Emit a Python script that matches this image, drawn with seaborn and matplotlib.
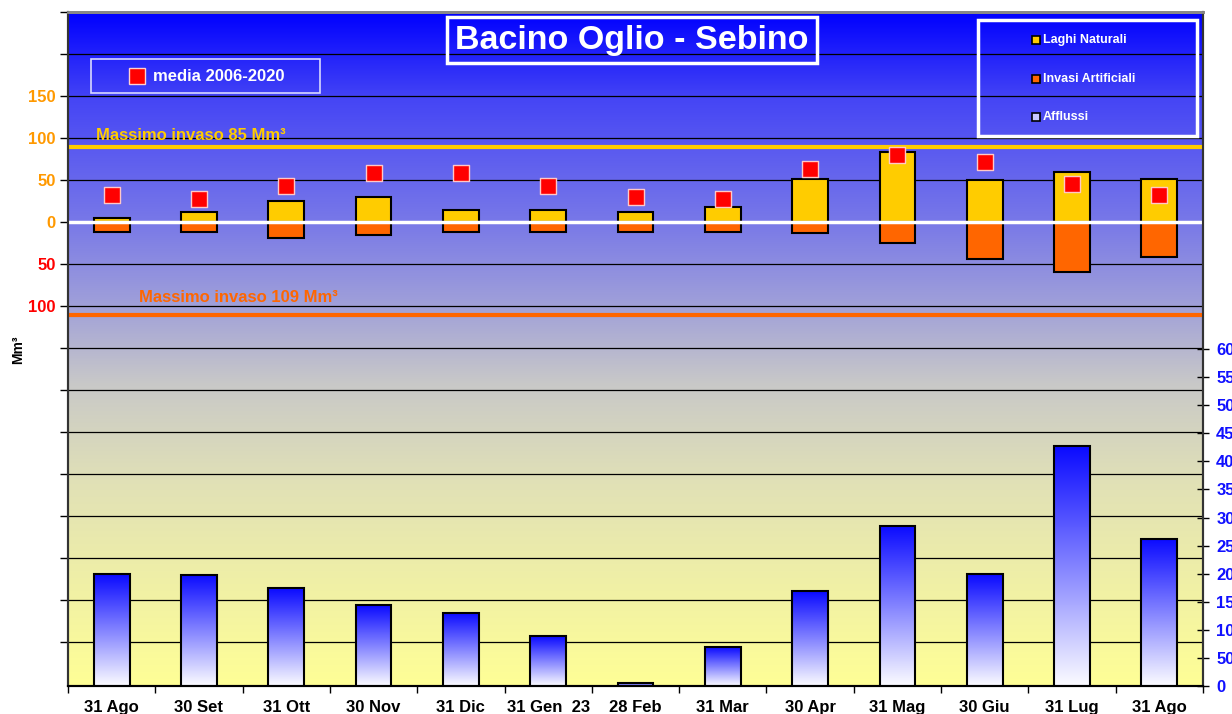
import numpy as np
import pandas as pd
import seaborn as sb
import matplotlib
matplotlib.use("Agg")
from matplotlib import pyplot as plt
from matplotlib.patches import Rectangle

plt.rcParams['font.family'] = ['Liberation Sans', 'DejaVu Sans']

# dati
date = ["31 Ago", "30 Set", "31 Ott", "30 Nov", "31 Dic", "31 Gen  23", "28 Feb",
        "31 Mar", "30 Apr", "31 Mag", "30 Giu", "31 Lug", "31 Ago"]
laghi_naturali = [5, 12, 25, 30, 14, 14, 12, 18, 51, 83, 50, 60, 51]
invasi_artificiali = [-12, -12, -19, -15, -12, -12, -12, -12, -13, -25, -44, -59, -42]
media_2006_2020 = [32, 28, 43, 59, 58, 43, 30, 27, 63, 80, 71, 45, 32]
afflussi = [199, 198, 174, 144, 130, 89, 5, 69, 169, 285, 199, 427, 262]
max_naturali = 89
max_artificiali = -110

df = pd.DataFrame({"idx": range(len(date)), "laghi": laghi_naturali,
                   "invasi": invasi_artificiali, "media": media_2006_2020,
                   "afflussi": afflussi})

fig = plt.figure(figsize=(12.32, 7.14), dpi=100)
ax = fig.add_axes([68/1232, 1-686/714, 1135/1232, 674/714])
ax2 = ax.twinx()

# barre laghi / invasi
sb.barplot(data=df, x="idx", y="laghi", ax=ax, color="#FFCC00", width=0.41,
           edgecolor="black", linewidth=1.5, saturation=1, errorbar=None, zorder=3)
sb.barplot(data=df, x="idx", y="invasi", ax=ax, color="#FF6600", width=0.41,
           edgecolor="black", linewidth=1.5, saturation=1, errorbar=None, zorder=3)
sb.scatterplot(data=df, x="idx", y="media", ax=ax, marker="s", s=125, color="#FF0000",
               edgecolor="#FFC8C8", linewidth=1, zorder=6, legend=False)

# afflussi con sfumatura
sb.barplot(data=df, x="idx", y="afflussi", ax=ax2, color="white", width=0.41,
           edgecolor="black", linewidth=1.5, saturation=1, errorbar=None, zorder=3)
grad = np.linspace(0, 1, 256)[:, None]
top = np.array([10, 10, 255]) / 255
bot = np.array([252, 252, 255]) / 255
bar_img = (bot + (top - bot) * grad)[:, None, :].reshape(256, 1, 3)
for p in ax2.patches:
    x0, y0 = p.get_x(), p.get_y()
    w, h = p.get_width(), p.get_height()
    im = ax2.imshow(bar_img, extent=[x0, x0 + w, y0, y0 + h], origin="lower",
                    aspect="auto", zorder=2)
    im.set_clip_path(p)
    p.set_facecolor("none")

# sfondo
stops = [0.0, 0.30, 0.45, 0.55, 0.69, 0.87, 1.0]
cols = np.array([[255, 255, 150], [225, 225, 182], [200, 200, 200], [165, 165, 215],
                 [120, 120, 232], [70, 70, 245], [0, 0, 255]]) / 255
yy = np.linspace(0, 1, 400)
bg = np.stack([np.interp(yy, stops, cols[:, i]) for i in range(3)], axis=1)[:, None, :]
ax.imshow(bg, extent=[0, 1, 0, 1], transform=ax.transAxes, origin="lower",
          aspect="auto", zorder=-10)

ax.axhline(0, color="white", lw=2.5, zorder=4)
ax.axhline(max_naturali, color="#FFCC00", lw=3, zorder=4)
ax.axhline(max_artificiali, color="#FF6600", lw=3, zorder=4)

ax.set_xlim(-0.5, len(date) - 0.5)
ax.set_ylim(-552, 250)
ax2.set_ylim(0, 1200)

# assi
yt = np.arange(-500, 251, 50)
ax.set_yticks(yt)
ax.set_yticklabels([str(abs(v)) if -100 <= v <= 150 else "" for v in yt],
                   fontsize=12, fontweight="bold")
for lab, v in zip(ax.get_yticklabels(), yt):
    lab.set_color("#FF9900" if v >= 0 else "#FF0000")
ax.tick_params(axis="y", direction="out", length=6, width=1, pad=3)
ax.grid(axis="y", color="black", lw=0.9, zorder=0.5)
ax.set_axisbelow(True)

ax.set_xticks(np.arange(-0.5, len(date), 1))
ax.set_xticklabels([])
ax.set_xticks(np.arange(len(date)), minor=True)
ax.set_xticklabels(date, minor=True, fontsize=12, fontweight="bold")
ax.tick_params(axis="x", which="major", direction="out", length=5, width=1)
ax.tick_params(axis="x", which="minor", length=0, pad=10)

ax2.set_yticks(np.arange(0, 601, 50))
ax2.set_yticklabels([str(v) for v in np.arange(0, 601, 50)], fontsize=12,
                    fontweight="bold", color="#1010FF")
ax2.tick_params(axis="y", direction="inout", length=9, width=1, pad=5)

ax.set_xlabel("")
ax.set_ylabel("")
ax2.set_xlabel("")
ax2.set_ylabel("")
for a in (ax, ax2):
    a.spines["top"].set_color("#888888")
    a.spines["top"].set_linewidth(2)
    a.spines["left"].set_color("#333333")
    a.spines["left"].set_linewidth(1.5)
    a.spines["right"].set_color("#333333")
    a.spines["right"].set_linewidth(1.5)
    a.spines["bottom"].set_linewidth(1.5)

fig.text(18/1232, 1-350/714, "Mm³", rotation=90, fontsize=10, fontweight="bold",
         ha="center", va="center")

# titolo
ax.add_patch(Rectangle((0.3339, 0.9243), 0.326, 0.0683, transform=ax.transAxes,
                       fill=False, edgecolor="white", lw=2.5, zorder=7))
ax.text(0.4969, 0.9575, "Bacino Oglio - Sebino", transform=ax.transAxes, color="white",
        fontsize=24.5, fontweight="bold", ha="center", va="center", zorder=8)

# legenda media
ax.add_patch(Rectangle((0.0203, 0.8798), 0.2017, 0.0505, transform=ax.transAxes,
                       fill=False, edgecolor="#D8D8FF", lw=1.2, zorder=7))
ax.plot([0.0608], [0.905], transform=ax.transAxes, marker="s", ms=12, color="#FF0000",
        mec="#FFD0D0", mew=1, zorder=8)
ax.text(0.0749, 0.905, "media 2006-2020", transform=ax.transAxes, color="white",
        fontsize=12, fontweight="bold", va="center", zorder=8)

# legenda serie
ax.add_patch(Rectangle((0.8018, 0.816), 0.1929, 0.172, transform=ax.transAxes,
                       fill=False, edgecolor="white", lw=2.5, zorder=7))
for yl, nome, col in [(0.9585, "Laghi Naturali", "#FFCC00"),
                      (0.9006, "Invasi Artificiali", "#FF6600"),
                      (0.8442, "Afflussi", "#C8C8FF")]:
    ax.plot([0.8529], [yl], transform=ax.transAxes, marker="s", ms=6, color=col,
            mec="black", mew=1.2, zorder=8)
    ax.text(0.8590, yl, nome, transform=ax.transAxes, color="white", fontsize=9,
            fontweight="bold", va="center", zorder=8)

ax.text(0.0247, 0.810, "Massimo invaso 85 Mm³", transform=ax.transAxes, color="#FFCC00",
        fontsize=12, fontweight="bold", va="baseline", zorder=8)
ax.text(0.0626, 0.5697, "Massimo invaso 109 Mm³", transform=ax.transAxes, color="#FF6600",
        fontsize=12, fontweight="bold", va="baseline", zorder=8)

fig.savefig("out.png", dpi=100)
